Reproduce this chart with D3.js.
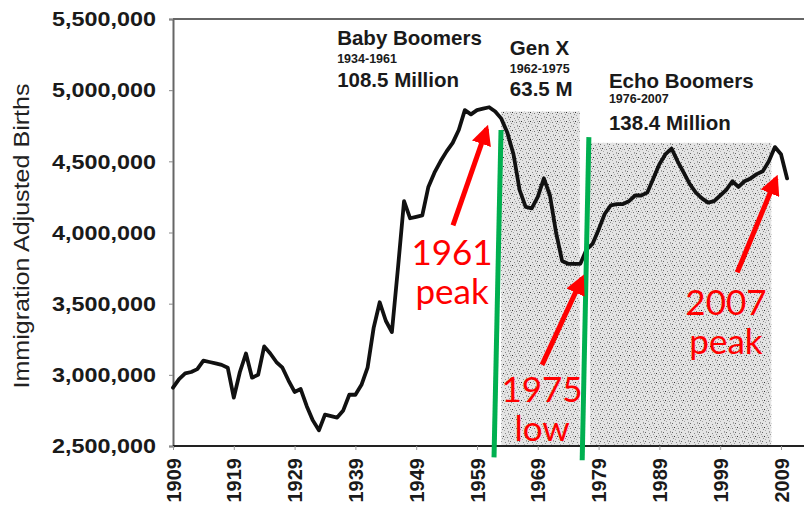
<!DOCTYPE html>
<html>
<head>
<meta charset="utf-8">
<script src="https://cdn.jsdelivr.net/npm/d3@7"></script>
<style>
  body { margin: 0; background: #fff; }
  svg { display: block; }
</style>
</head>
<body>
<div id="chart"></div>
<script>
// births by year (millions)
const startYear = 1909
const births = [
  2.91, 2.97, 3.01, 3.02, 3.04, 3.10, 3.09, 3.08, 3.07, 3.05,
  2.84, 3.02, 3.15, 2.98, 3.00, 3.20, 3.15, 3.09, 3.05, 2.96,
  2.88, 2.90, 2.78, 2.68, 2.61, 2.72, 2.71, 2.70, 2.75, 2.86,
  2.86, 2.93, 3.05, 3.33, 3.51, 3.38, 3.30, 3.75, 4.22, 4.10,
  4.11, 4.12, 4.32, 4.42, 4.50, 4.57, 4.63, 4.72, 4.86, 4.83,
  4.86, 4.87, 4.88, 4.85, 4.80, 4.70, 4.55, 4.30, 4.18, 4.17,
  4.25, 4.38, 4.26, 4.00, 3.80, 3.78, 3.78, 3.78, 3.88, 3.92,
  4.02, 4.13, 4.19, 4.20, 4.20, 4.22, 4.26, 4.26, 4.28, 4.38,
  4.48, 4.55, 4.59, 4.50, 4.42, 4.34, 4.28, 4.24, 4.21, 4.22,
  4.26, 4.30, 4.36, 4.32, 4.36, 4.38, 4.41, 4.43, 4.50, 4.60,
  4.55, 4.38
]
const yTicks = [2500000, 3000000, 3500000, 4000000, 4500000, 5000000, 5500000]
const xTicks = [1909, 1919, 1929, 1939, 1949, 1959, 1969, 1979, 1989, 1999, 2009]

// generation blocks (shaded areas, in years / millions)
const shades = [
  { from: 1963.0, to: 1975.9, top: 4.85 },
  { from: 1977.6, to: 2007.4, top: 4.63 }
]
const generations = [
  { year: 1936.0, lines: ["Baby Boomers", "1934-1961", "108.5 Million"], base: [45, 63, 87] },
  { year: 1964.4, lines: ["Gen X", "1962-1975", "63.5 M"], base: [55, 73, 96] },
  { year: 1980.7, lines: ["Echo Boomers", "1976-2007", "138.4 Million"], base: [88, 103, 130] }
]
// green divider lines
const dividers = [
  { y1: 1962.95, v1: 4.72, y2: 1961.8, v2: 2.42 },
  { y1: 1977.4, v1: 4.67, y2: 1976.3, v2: 2.40 }
]
// red callouts
const callouts = [
  { text: ["1961", "peak"], year: 1954.9, value: 3.77, tail: [1955.05, 4.05], head: [1960.6, 4.73] },
  { text: ["1975", "low"], year: 1969.7, value: 2.81, tail: [1969.7, 3.07], head: [1976.3, 3.68] },
  { text: ["2007", "peak"], year: 1999.95, value: 3.42, tail: [2001.8, 3.72], head: [2008.2, 4.38] }
]

const W = 804, H = 509
const LEFT = 173, TOP = 19, BOTTOM = 446, RIGHT = 804

const svg = d3.select("#chart").append("svg")
  .attr("width", W).attr("height", H)

const x = d3.scaleLinear().domain([1909, 2009]).range([LEFT, 781])
const y = d3.scaleLinear().domain([2500000, 5500000]).range([BOTTOM, TOP])
const yM = v => y(v * 1e6)

// stipple pattern for the shaded blocks
const defs = svg.append("defs")
const pat = defs.append("pattern")
  .attr("id", "stip").attr("width", 9).attr("height", 9)
  .attr("patternUnits", "userSpaceOnUse")
pat.append("rect").attr("width", 9).attr("height", 9).attr("fill", "#e4e4e4")
const dots = [[1, 1, "#888"], [5, 2, "#999"], [3, 5, "#777"], [7, 6, "#888"], [0, 7, "#aaa"], [6, 0, "#666"],
  [4, 8, "#999"], [8, 4, "#333"], [2, 3, "#aaa"], [6, 4, "#999"], [1, 5, "#bbb"], [4, 0, "#aaa"]]
dots.forEach(d => pat.append("rect").attr("x", d[0]).attr("y", d[1]).attr("width", 1).attr("height", 1).attr("fill", d[2]))

svg.selectAll("rect.shade")
  .data(shades)
  .enter().append("rect")
    .attr("class", "shade")
    .attr("x", d => x(d.from))
    .attr("y", d => yM(d.top))
    .attr("width", d => x(d.to) - x(d.from))
    .attr("height", d => BOTTOM - yM(d.top))
    .attr("fill", "url(#stip)")

// frame: top border + axes
svg.append("line")
  .attr("x1", LEFT).attr("x2", RIGHT).attr("y1", TOP).attr("y2", TOP)
  .attr("stroke", "#333").attr("stroke-width", 1.6)

const yAxis = svg.append("g")
  .attr("transform", `translate(${LEFT},0)`)
  .call(d3.axisLeft(y).tickValues(yTicks).tickFormat(d3.format(",")).tickSize(4).tickPadding(13))
yAxis.select(".domain").attr("stroke", "#666").attr("stroke-width", 2)
yAxis.selectAll(".tick line").attr("stroke", "#888")
yAxis.selectAll(".tick text")
  .attr("font-family", "Liberation Sans, Arial, sans-serif")
  .attr("font-weight", "bold")
  .attr("font-size", 21)
  .attr("fill", "#1a1a1a")
  .attr("textLength", 104)
  .attr("lengthAdjust", "spacingAndGlyphs")

const xAxis = svg.append("g")
  .attr("transform", `translate(0,${BOTTOM})`)
  .call(d3.axisBottom(x).tickValues(xTicks).tickFormat(d3.format("d")).tickSize(4).tickSizeOuter(0))
xAxis.select(".domain").attr("stroke", "#222").attr("stroke-width", 2)
  .attr("d", `M${LEFT},0H${RIGHT}`)
xAxis.selectAll(".tick line").attr("stroke", "#999")
xAxis.selectAll(".tick text")
  .attr("transform", "rotate(-90)")
  .attr("text-anchor", "end")
  .attr("x", -12)
  .attr("y", 0)
  .attr("dy", "0.35em")
  .attr("font-family", "Liberation Sans, Arial, sans-serif")
  .attr("font-weight", "bold")
  .attr("font-size", 20)
  .attr("fill", "#1a1a1a")

svg.append("text")
  .attr("transform", `translate(29,236) rotate(-90)`)
  .attr("text-anchor", "middle")
  .attr("font-family", "Liberation Sans, Arial, sans-serif")
  .attr("font-size", 22)
  .attr("fill", "#222")
  .attr("textLength", 305)
  .attr("lengthAdjust", "spacingAndGlyphs")
  .text("Immigration Adjusted Births")

// births line
const series = births.map((v, i) => ({ year: startYear + i, value: v }))
const line = d3.line()
  .x(d => x(d.year))
  .y(d => yM(d.value))
svg.append("path")
  .datum(series)
  .attr("d", line)
  .attr("fill", "none")
  .attr("stroke", "#111")
  .attr("stroke-width", 3.8)
  .attr("stroke-linejoin", "round")
  .attr("stroke-linecap", "round")

// generation labels
generations.forEach(g => {
  const t = svg.append("g").attr("font-family", "Liberation Sans, Arial, sans-serif")
    .attr("font-weight", "bold").attr("fill", "#1a1a1a")
  g.lines.forEach((s, i) => {
    t.append("text")
      .attr("x", x(g.year))
      .attr("y", g.base[i])
      .attr("font-size", i === 1 ? 12.5 : 20.5)
      .text(s)
  })
})

// green dividers
svg.selectAll("line.divider")
  .data(dividers)
  .enter().append("line")
    .attr("class", "divider")
    .attr("x1", d => x(d.y1)).attr("y1", d => yM(d.v1))
    .attr("x2", d => x(d.y2)).attr("y2", d => yM(d.v2))
    .attr("stroke", "#00b050")
    .attr("stroke-width", 5)

// red arrows and text
defs.append("marker")
  .attr("id", "arrow")
  .attr("viewBox", "0 0 10 10")
  .attr("refX", 8).attr("refY", 5)
  .attr("markerWidth", 4).attr("markerHeight", 4)
  .attr("orient", "auto")
  .append("path")
    .attr("d", "M0,0L10,5L0,10z")
    .attr("fill", "#ff0000")

callouts.forEach(c => {
  svg.append("line")
    .attr("x1", x(c.tail[0])).attr("y1", yM(c.tail[1]))
    .attr("x2", x(c.head[0])).attr("y2", yM(c.head[1]))
    .attr("stroke", "#ff0000")
    .attr("stroke-width", 5)
    .attr("marker-end", "url(#arrow)")
  const t = svg.append("text")
    .attr("text-anchor", "middle")
    .attr("font-family", "Lato, Carlito, sans-serif")
    .attr("font-size", 35)
    .attr("fill", "#ff0000")
  c.text.forEach((s, i) => {
    t.append("tspan")
      .attr("x", x(c.year))
      .attr("y", yM(c.value) + i * 39)
      .text(s)
  })
})
</script>
</body>
</html>
